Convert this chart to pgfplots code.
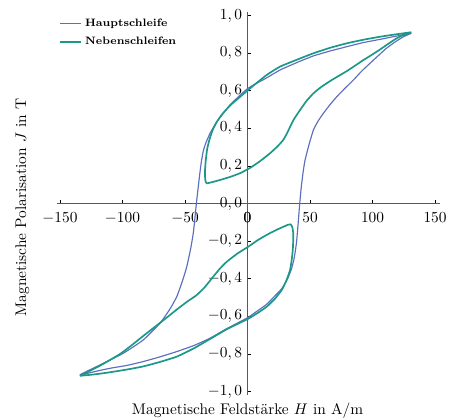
\documentclass[border=0pt]{standalone}
\usepackage{pgfplots}
\pgfplotsset{compat=1.18}
\definecolor{haupt}{RGB}{92,110,190}
\definecolor{neben}{RGB}{28,152,136}

\begin{document}
\begin{tikzpicture}
\begin{axis}[
    at={(0,0)}, anchor=south west,
    scale only axis,
    width=249pt, height=249pt,
    xmin=-152.4, xmax=154,
    ymin=-1.018, ymax=1.02,
    clip=false,
    axis lines=middle,
    axis line style={gray!70!black, line width=0.7pt, -},
    tick align=inside,
    major tick length=2.5pt,
    tick style={black, line width=0.6pt},
    hide obscured x ticks=false,
    hide obscured y ticks=false,
    xtick={-150,-100,-50,0,50,100,150},
    ytick={-1,-0.8,-0.6,-0.4,-0.2,0,0.2,0.4,0.6,0.8,1},
    xticklabel style={yshift=-2.5pt},
    yticklabel style={/pgf/number format/.cd, fixed, fixed zerofill, precision=1, set decimal separator={,}},
    xlabel={Magnetische Feldstärke $H$ in A/m},
    ylabel={Magnetische Polarisation $J$ in T},
    xlabel style={at={(rel axis cs:0.4974,-0.0504)}, anchor=base},
    ylabel style={at={(rel axis cs:-0.0809,0.4896)}, anchor=base, rotate=90},
    legend style={at={(rel axis cs:0,1)}, anchor=north west, yshift=-1.3pt, draw=none, fill=none,
        font=\scriptsize\bfseries, row sep=1.5pt, inner sep=1pt},
    legend cell align=left,
    legend image code/.code={\draw[#1] (0pt,0pt) -- (14pt,0pt);},
    line join=round,
]
\addplot[haupt, line width=0.75pt, smooth, tension=0.3] coordinates {
(131,0.906) (118,0.89) (106,0.874) (92,0.856) (79.4,0.835) (66,0.812) (52.7,0.786)
(40,0.752) (26,0.711) (15,0.668) (0,0.612) (-14,0.525) (-24.6,0.435) (-30,0.374)
(-33.5,0.32) (-35.4,0.28) (-37,0.22) (-38,0.17) (-39.4,0.09) (-40.6,0.02) (-41.4,-0.03)
(-42.3,-0.09) (-43.4,-0.157) (-45.5,-0.24) (-48.6,-0.335) (-52,-0.41) (-56.6,-0.495)
(-62,-0.56) (-70,-0.636) (-83.4,-0.725) (-99.4,-0.796) (-118,-0.858) (-134,-0.911)
(-120,-0.89) (-110,-0.876) (-96,-0.86) (-83.4,-0.84) (-70,-0.815) (-56.6,-0.787)
(-43,-0.755) (-30,-0.716) (-16.6,-0.665) (0,-0.607) (8,-0.57) (15.4,-0.535) (22,-0.49)
(27.4,-0.452) (32,-0.4) (35,-0.35) (37,-0.3) (38.5,-0.24) (39.4,-0.19) (40.3,-0.12)
(41,-0.06) (42,0.02) (43,0.09) (44.5,0.17) (46,0.232) (49,0.31) (52.7,0.392)
(56.5,0.44) (60.7,0.481) (66,0.527) (71.4,0.569) (78,0.614) (84.7,0.658) (91,0.703)
(98,0.747) (104.5,0.787) (111,0.826) (118,0.86) (124.7,0.888) (131,0.906)
};
\addlegendentry{Hauptschleife}
\addplot[neben, line width=1.1pt, smooth, tension=0.3] coordinates {
(131,0.912) (118,0.9) (106,0.888) (92.7,0.872) (79.4,0.853) (66,0.829) (52.7,0.80)
(40,0.767) (26,0.729) (15,0.683) (2,0.613) (-6,0.568) (-14,0.522) (-20,0.478)
(-24.6,0.435) (-28,0.39) (-30.5,0.34) (-32.3,0.29) (-33.4,0.232) (-34,0.18) (-34,0.144)
(-33.6,0.118) (-32.6,0.108) (-28,0.115) (-22,0.126) (-14,0.142) (-6,0.162) (2,0.19)
(10,0.226) (18,0.268) (24,0.305) (28.6,0.339) (32,0.38) (34.5,0.415) (37,0.448)
(42,0.498) (47,0.545) (52.7,0.587) (59,0.621) (66,0.652) (72.5,0.678) (79.4,0.705)
(86,0.734) (92.7,0.764) (99,0.79) (106,0.82) (112.5,0.85) (119.4,0.88) (125,0.898)
(131,0.912)
};
\addlegendentry{Nebenschleifen}
\addplot[neben, line width=1.1pt, smooth, tension=0.3, forget plot] coordinates {
(-134,-0.916) (-118,-0.862) (-102,-0.8) (-93,-0.755) (-84,-0.707) (-74,-0.655)
(-64,-0.603) (-56,-0.56) (-48,-0.52) (-41,-0.488) (-35,-0.45) (-30,-0.41) (-27.4,-0.388)
(-22,-0.345) (-16.6,-0.309) (-8,-0.265) (0.6,-0.229) (8,-0.195) (15.4,-0.166)
(23,-0.14) (29,-0.122) (32.5,-0.112) (34.5,-0.11) (35.8,-0.125) (36.6,-0.16)
(36.5,-0.2) (36.2,-0.246) (35.3,-0.3) (34,-0.353) (31,-0.41) (27.4,-0.459)
(22,-0.505) (15.4,-0.548) (8,-0.582) (0.6,-0.612) (-8,-0.64) (-16.6,-0.668)
(-30,-0.72) (-43,-0.77) (-56.6,-0.814) (-70,-0.842) (-83.4,-0.866) (-96,-0.882)
(-110,-0.897) (-122,-0.908) (-134,-0.916)
};
\end{axis}
\node[anchor=north, inner sep=0.333em] at (123.85pt,121.9pt) {$0$};
\pgfresetboundingbox
\path[use as bounding box] (-37.05pt,-14.95pt) rectangle (259.35pt,256.75pt);
\end{tikzpicture}
\end{document}
